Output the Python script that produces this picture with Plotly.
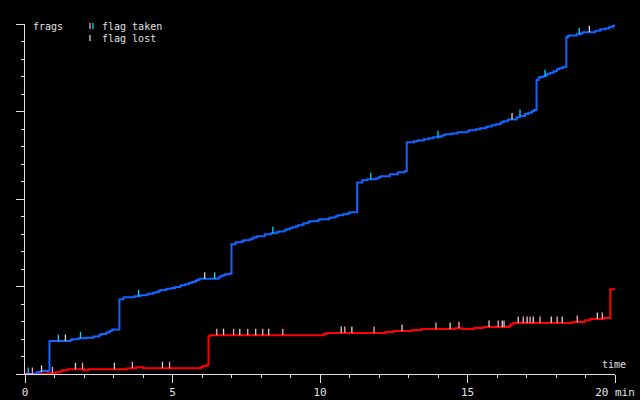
import plotly.graph_objects as go

BG = "#000000"
FG = "#e0e0e0"
BLUE = "#1464ff"
RED = "#ff0000"
CYAN = "#00d8ff"
PINK = "#ff9ec8"
WHITE = "#d8d8d8"
MAGENTA = "#ff33ff"
FONT = "DejaVu Sans Mono"

# blue team frags (minutes, frags), drawn as a staircase
blue_t = [0, 0.34, 0.42, 0.49, 0.57, 0.83, 1.55, 1.59, 1.81, 2.07, 2.32, 2.52, 2.57,
          2.75, 2.83, 2.89, 2.96, 3.20, 3.34, 3.71, 3.90, 4.13, 4.19, 4.34, 4.45,
          4.53, 4.59, 4.78, 4.81, 4.98, 5.09, 5.26, 5.30, 5.43, 5.55, 5.66, 5.77,
          5.83, 5.91, 6.56, 6.62, 6.70, 6.79, 6.94, 7.00, 7.14, 7.36, 7.41, 7.62,
          7.70, 7.75, 7.87, 8.13, 8.34, 8.52, 8.60, 8.79, 8.86, 8.97, 9.06, 9.19,
          9.26, 9.40, 9.45, 9.59, 9.65, 9.93, 9.99, 10.30, 10.36, 10.53, 10.60,
          10.79, 10.94, 11.01, 11.26, 11.43, 11.60, 11.90, 12.00, 12.05, 12.37,
          12.64, 12.87, 12.94, 13.19, 13.30, 13.52, 13.69, 13.84, 14.07, 14.16,
          14.24, 14.47, 14.66, 15.00, 15.05, 15.28, 15.43, 15.62, 15.68, 15.82,
          15.96, 16.11, 16.15, 16.22, 16.36, 16.38, 16.67, 16.78, 16.95, 17.06,
          17.18, 17.26, 17.34, 17.41, 17.46, 17.57, 17.66, 17.71, 17.80, 17.92,
          18.03, 18.11, 18.22, 18.28, 18.35, 18.40, 18.45, 18.70, 18.85, 18.91,
          19.33, 19.50, 19.67, 19.79, 19.92, 20.0]
blue_v = [0, 0.4, 1.0, 1.3, 1.7, 18.9, 19.4, 19.8, 20.4, 20.7, 21.5, 22.3, 22.9,
          23.6, 24.2, 24.7, 25.5, 42.7, 43.8, 44.4, 45.0, 45.5, 45.9, 46.5, 46.9,
          47.4, 48.0, 48.4, 48.7, 49.1, 49.7, 50.3, 50.7, 51.3, 52.0, 52.6, 53.1,
          53.7, 54.5, 55.1, 55.8, 56.4, 57.0, 57.5, 74.1, 75.3, 75.8, 76.4, 77.0,
          77.5, 78.1, 78.7, 79.8, 80.4, 81.0, 81.5, 82.1, 82.7, 83.3, 83.8, 84.4,
          85.0, 85.5, 86.1, 86.7, 87.3, 87.8, 88.4, 89.0, 89.5, 90.1, 90.7,
          91.3, 91.8, 92.4, 109.5, 110.7, 111.3, 111.8, 112.4, 113.0, 114.1,
          115.3, 115.8, 132.4, 133.0, 133.5, 134.1, 134.7, 135.3, 135.8, 136.4,
          137.0, 137.5, 138.1, 138.7, 139.3, 139.8, 140.4, 141.0, 141.5, 142.1,
          142.7, 143.3, 143.8, 144.4, 145.0, 145.5, 146.7, 147.4, 148.6, 149.3,
          150.1, 150.9, 168.0, 169.3, 169.7, 170.1, 170.9, 171.6, 172.2, 173.0,
          174.1, 174.7, 175.3, 175.6, 192.4, 193.1, 193.5, 194.1, 194.7, 195.3,
          196.2, 197.0, 197.5, 198.1, 198.9, 199.9]

# red team frags
red_t = [0, 0.77, 1.05, 1.19, 1.27, 1.44, 2.00, 2.15, 3.47, 3.77, 4.02, 5.96, 6.02,
         6.15, 6.22, 6.28, 10.13, 10.22, 12.22, 12.49, 13.13, 13.44, 14.57, 14.83,
         15.22, 15.54, 16.41, 16.47, 16.56, 18.56, 18.99, 19.16, 19.62, 19.84, 20.0]
red_v = [0, 0.4, 1.0, 1.6, 2.2, 2.7, 2.2, 2.7, 3.3, 3.8, 3.3, 3.8, 4.5,
         5.0, 21.6, 22.2, 22.9, 23.4, 24.0, 24.6, 25.1, 25.7, 26.1, 25.7,
         26.3, 26.9, 27.4, 28.4, 29.1, 29.7, 30.7, 31.4, 32.0, 48.4, 48.4]

# both teams level at the start
tie_t = [0, 0.28]
tie_v = [0, 0]

# flag events (minutes)
blue_taken = [0.11, 1.13, 1.88, 3.85, 6.43, 8.40, 11.72, 14.00, 16.78, 17.63, 18.79]
blue_lost = [0.56, 1.37, 6.09, 16.51, 19.13]
red_taken = [0.25, 0.93, 1.95, 3.64, 4.90, 6.50, 7.07, 7.55, 8.06, 8.74, 10.84,
             11.83, 13.93, 14.71, 16.04, 16.24, 16.89, 17.12, 17.46, 18.04,
             18.72, 19.57]
red_lost = [1.71, 3.03, 4.66, 6.73, 7.28, 7.82, 8.26, 10.72, 11.08, 12.78, 14.41,
            15.73, 16.18, 16.72, 17.02, 17.23, 17.84, 18.21, 19.40]

X_MAX, Y_MAX = 20, 200
L, R, T, B = 25, 25, 24, 26
W, H = 640, 400
PLOT_W, PLOT_H = W - L - R, H - T - B
FRAG_PER_PX = Y_MAX / PLOT_H
MARK_PX = 6.5


def level_at(ts, vs, t):
    v = vs[0]
    for ti, vi in zip(ts, vs):
        if ti <= t:
            v = vi
    return v


def px(x, y):
    return (x - L) / PLOT_W, (H - B - y) / PLOT_H


fig = go.Figure()

fig.add_trace(go.Scatter(x=red_t, y=red_v, mode="lines", line=dict(color=RED, width=2, shape="hv")))
fig.add_trace(go.Scatter(x=blue_t, y=blue_v, mode="lines", line=dict(color=BLUE, width=2, shape="hv")))
fig.add_trace(go.Scatter(x=tie_t, y=tie_v, mode="lines", line=dict(color=MAGENTA, width=2)))

for times, ts, vs, col in [
    (blue_taken, blue_t, blue_v, CYAN),
    (blue_lost, blue_t, blue_v, WHITE),
    (red_taken, red_t, red_v, PINK),
    (red_lost, red_t, red_v, WHITE),
]:
    ys = [level_at(ts, vs, t) + MARK_PX / 2 * FRAG_PER_PX for t in times]
    fig.add_trace(go.Scatter(
        x=times, y=ys, mode="markers", cliponaxis=False,
        marker=dict(symbol="line-ns", size=MARK_PX / 1.4, line=dict(color=col, width=1.3)),
    ))

# legend drawn by hand
shapes = []
for x, y0, y1, col in [(90, 23, 29, PINK), (93, 23, 29, CYAN), (90, 35, 41, WHITE)]:
    xa, ya0 = px(x, y1)
    _, ya1 = px(x, y0)
    shapes.append(dict(type="line", xref="paper", yref="paper", x0=xa, x1=xa, y0=ya0, y1=ya1,
                       line=dict(color=col, width=1.3)))

annotations = []
for text, x, y, anchor in [("frags", 31, 26.5, "left"), ("flag taken", 99.5, 26.5, "left"),
                           ("flag lost", 99.5, 38, "left"), ("time", 628, 364.5, "right")]:
    xa, ya = px(x, y)
    annotations.append(dict(text=text, x=xa, y=ya, xref="paper", yref="paper", showarrow=False,
                            xanchor=anchor, yanchor="middle", font=dict(family=FONT, size=10, color=FG)))

axis_common = dict(
    showgrid=False, zeroline=False, showline=True, linecolor=FG, linewidth=1,
    ticks="outside", tickcolor=FG, tickwidth=1, ticklen=8, fixedrange=True, automargin=False,
)

fig.update_layout(
    width=W, height=H,
    paper_bgcolor=BG, plot_bgcolor=BG,
    margin=dict(l=L, r=R, t=T, b=B, pad=0, autoexpand=False),
    showlegend=False,
    font=dict(family=FONT, size=11, color=FG),
    shapes=shapes,
    annotations=annotations,
    xaxis=dict(
        axis_common, range=[0, X_MAX], tick0=0, dtick=5,
        labelalias={"20": "20 min"},
        tickfont=dict(family=FONT, size=11, color=FG),
        minor=dict(ticks="outside", tick0=0, dtick=1, ticklen=3, tickcolor=FG, tickwidth=1),
    ),
    yaxis=dict(
        axis_common, range=[0, Y_MAX], tick0=0, dtick=50, showticklabels=False,
        minor=dict(ticks="outside", tick0=0, dtick=10, ticklen=3, tickcolor=FG, tickwidth=1),
    ),
)

fig.write_html(
    "out.html",
    config={"displayModeBar": False, "staticPlot": True},
    post_script="document.body.style.margin='0';document.body.style.overflow='hidden';"
                "document.body.style.background='#000';",
)
